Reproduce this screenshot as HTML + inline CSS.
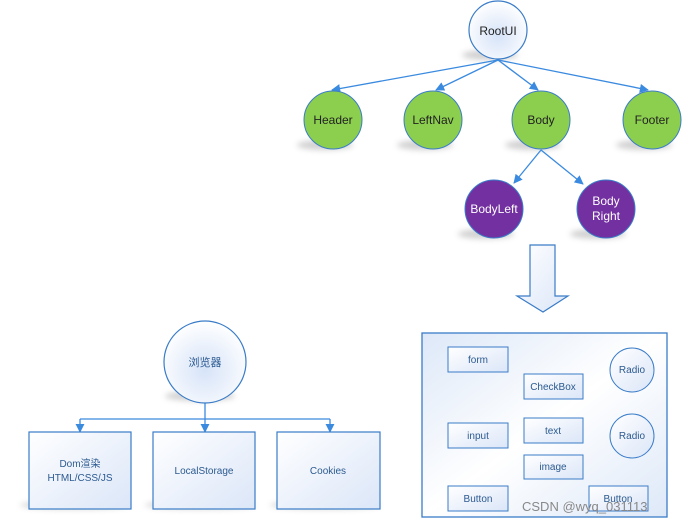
<!DOCTYPE html>
<html><head><meta charset="utf-8"><style>
body{margin:0;background:#fff;width:690px;height:526px;overflow:hidden}
svg text{font-family:"Liberation Sans","Noto Sans CJK SC",sans-serif}
</style></head><body>
<svg width="690" height="526" viewBox="0 0 690 526" xmlns="http://www.w3.org/2000/svg">
<defs>
<radialGradient id="wg" cx="0.5" cy="0.6" r="0.6"><stop offset="0" stop-color="#d6e3f8"/><stop offset="1" stop-color="#ffffff"/></radialGradient>
<linearGradient id="bg" x1="0" y1="0" x2="1" y2="1"><stop offset="0" stop-color="#ffffff"/><stop offset="1" stop-color="#dbe6f8"/></linearGradient>
<linearGradient id="big" x1="0" y1="0" x2="1" y2="1"><stop offset="0" stop-color="#dde8f8"/><stop offset="0.5" stop-color="#ffffff"/><stop offset="1" stop-color="#dde8f8"/></linearGradient>
<marker id="ar" viewBox="0 0 10 10" refX="9" refY="5" markerWidth="7" markerHeight="7" orient="auto"><path d="M0,0L10,5L0,10z" fill="#3a8ae0"/></marker>
<filter id="sh"><feGaussianBlur stdDeviation="3"/></filter>
</defs>
<g fill="#999" opacity="0.45" filter="url(#sh)">
<ellipse cx="490" cy="55" rx="28" ry="5"/>
<ellipse cx="325" cy="145" rx="28" ry="5"/><ellipse cx="425" cy="145" rx="28" ry="5"/><ellipse cx="533" cy="145" rx="28" ry="5"/><ellipse cx="644" cy="145" rx="28" ry="5"/>
<ellipse cx="486" cy="234" rx="28" ry="5"/><ellipse cx="598" cy="234" rx="28" ry="5"/>
<ellipse cx="200" cy="396" rx="35" ry="5"/>
<ellipse cx="75" cy="505" rx="55" ry="4"/><ellipse cx="200" cy="505" rx="55" ry="4"/><ellipse cx="325" cy="505" rx="55" ry="4"/>
</g>
<g stroke="#3a8ae0" stroke-width="1.3" fill="none" marker-end="url(#ar)">
<line x1="498" y1="60" x2="332" y2="90"/>
<line x1="498" y1="60" x2="436" y2="90"/>
<line x1="498" y1="60" x2="538" y2="90"/>
<line x1="498" y1="60" x2="648" y2="90"/>
<line x1="541" y1="150" x2="514" y2="183"/>
<line x1="541" y1="150" x2="583" y2="184"/>
</g>
<circle cx="498" cy="30" r="29" fill="url(#wg)" stroke="#3a7cc8" stroke-width="1.2"/>
<text x="498" y="35" font-size="12" text-anchor="middle" fill="#222">RootUI</text>
<g fill="#8ccf4e" stroke="#3a7cc8" stroke-width="1">
<circle cx="333" cy="120" r="29"/><circle cx="433" cy="120" r="29"/><circle cx="541" cy="120" r="29"/><circle cx="652" cy="120" r="29"/></g>
<g font-size="12" text-anchor="middle" fill="#222">
<text x="333" y="124">Header</text><text x="433" y="124">LeftNav</text><text x="541" y="124">Body</text><text x="652" y="124">Footer</text></g>
<g fill="#7330a0" stroke="#3a7cc8" stroke-width="1"><circle cx="494" cy="209" r="29"/><circle cx="606" cy="209" r="29"/></g>
<g font-size="12" text-anchor="middle" fill="#fff">
<text x="494" y="213">BodyLeft</text><text x="606" y="205">Body</text><text x="606" y="220">Right</text></g>
<path d="M530,245H555V296H568L543,312L517,296H530Z" fill="url(#bg)" stroke="#3a7cc8" stroke-width="1.2"/>
<rect x="422" y="333" width="245" height="184" fill="url(#big)" stroke="#3a7cc8" stroke-width="1.3"/>
<g fill="url(#bg)" stroke="#3a7cc8" stroke-width="1">
<rect x="448" y="347" width="60" height="25"/><rect x="524" y="374" width="59" height="25"/>
<rect x="448" y="423" width="60" height="25"/><rect x="524" y="418" width="59" height="25"/>
<rect x="524" y="455" width="59" height="24"/><rect x="448" y="486" width="60" height="25"/>
<rect x="589" y="486" width="59" height="25"/>
<circle cx="632" cy="370" r="22"/><circle cx="632" cy="436" r="22"/></g>
<g font-size="10" text-anchor="middle" fill="#2c5a90">
<text x="478" y="363">form</text><text x="553" y="390">CheckBox</text>
<text x="478" y="439">input</text><text x="553" y="434">text</text>
<text x="553" y="470">image</text><text x="478" y="502">Button</text><text x="618" y="502">Button</text>
<text x="632" y="373">Radio</text><text x="632" y="439">Radio</text></g>
<text x="522" y="511" font-size="13" fill="#888">CSDN @wyq_031113</text>
<g stroke="#3a8ae0" stroke-width="1.3" fill="none">
<line x1="205" y1="403" x2="205" y2="419"/>
<line x1="80" y1="419" x2="330" y2="419"/></g>
<g stroke="#3a8ae0" stroke-width="1.3" marker-end="url(#ar)">
<line x1="80" y1="419" x2="80" y2="432"/><line x1="205" y1="419" x2="205" y2="432"/><line x1="330" y1="419" x2="330" y2="432"/></g>
<circle cx="205" cy="362" r="41" fill="url(#wg)" stroke="#3a7cc8" stroke-width="1.2"/>
<text x="205" y="366" font-size="11" text-anchor="middle" fill="#2c5a90">浏览器</text>
<g fill="url(#bg)" stroke="#3a7cc8" stroke-width="1.2">
<rect x="29" y="432" width="102" height="77"/><rect x="153" y="432" width="102" height="77"/><rect x="277" y="432" width="103" height="77"/></g>
<g font-size="10" text-anchor="middle" fill="#2c5a90">
<text x="80" y="467">Dom渲染</text><text x="80" y="481">HTML/CSS/JS</text>
<text x="204" y="474">LocalStorage</text><text x="328" y="474">Cookies</text></g>
</svg>
</body></html>
